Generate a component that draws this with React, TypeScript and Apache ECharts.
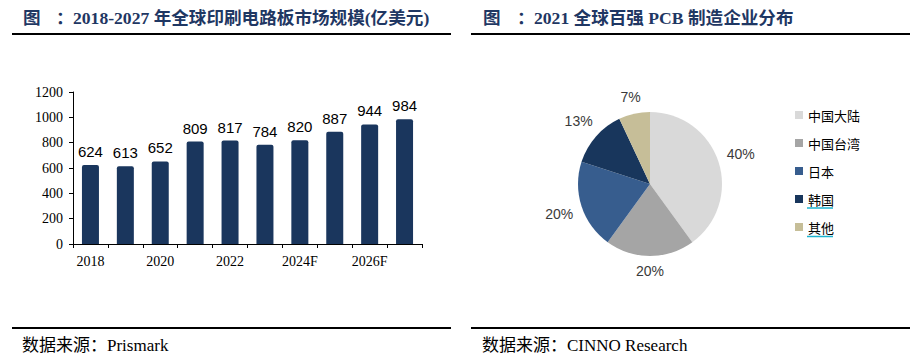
import React, { useEffect, useRef } from "react";
import * as echarts from "echarts";

const years = ["2018", "2019", "2020", "2021", "2022", "2023", "2024F", "2025F", "2026F", "2027F"];
const marketSize = [624, 613, 652, 809, 817, 784, 820, 887, 944, 984];
const yTicks = { min: 0, max: 1200, interval: 200 };

const regions = ["中国大陆", "中国台湾", "日本", "韩国", "其他"];
const shares = [40, 20, 20, 13, 7];
const regionColors = ["#d9d9d9", "#a5a5a5", "#375d8e", "#18365c", "#c6be98"];

const leftTitle = "2018-2027 年全球印刷电路板市场规模(亿美元)";
const rightTitle = "2021 全球百强 PCB 制造企业分布";
const leftSource = "数据来源：Prismark";
const rightSource = "数据来源：CINNO Research";

const NAVY = "#1f3763";
const SERIF = '"Liberation Serif", "Noto Sans CJK SC", serif';
const SANS = '"Liberation Sans", Arial, sans-serif';

const PIE_C = [650, 184];
const PIE_R = 72;

export default function App() {
  const ref = useRef<HTMLDivElement>(null);
  useEffect(() => {
    if (!ref.current) return;
    const chart = echarts.init(ref.current, null, { renderer: "svg" });
    const total = shares.reduce((a, b) => a + b, 0);

    const hline = (x1: number, x2: number, y: number) => ({
      type: "line",
      shape: { x1, y1: y, x2, y2: y },
      style: { stroke: "#000", lineWidth: 2 },
      silent: true,
    });
    const txt = (x: number, y: number, text: string, size: number, color: string, weight: string, family = SERIF) => ({
      type: "text",
      x,
      y,
      style: { text, fontSize: size, fill: color, fontWeight: weight, fontFamily: family, verticalAlign: "middle", align: "left" },
      silent: true,
    });

    chart.setOption({
      animation: false,
      grid: { left: 73, top: 92, width: 349, height: 152, containLabel: false },
      xAxis: {
        type: "category",
        data: years,
        axisLine: { show: true, lineStyle: { color: "#000", width: 1 } },
        axisTick: { show: true, interval: 0, length: 4, lineStyle: { color: "#000" } },
        axisLabel: { interval: 1, color: "#000", fontFamily: SERIF, fontSize: 14, margin: 10 },
      },
      yAxis: {
        type: "value",
        min: yTicks.min,
        max: yTicks.max,
        interval: yTicks.interval,
        splitLine: { show: false },
        axisLine: { show: true, lineStyle: { color: "#000", width: 1 } },
        axisTick: { show: true, length: 4, lineStyle: { color: "#000" } },
        axisLabel: { color: "#000", fontFamily: SERIF, fontSize: 14, margin: 10, formatter: (v: number) => String(v) },
      },
      legend: {
        orient: "vertical",
        left: 790,
        top: 103,
        padding: 5,
        icon: "rect",
        itemWidth: 8,
        itemHeight: 8,
        itemGap: 14,
        data: regions,
        textStyle: { color: "#000", fontSize: 13, lineHeight: 14, fontFamily: '"Noto Sans CJK SC", sans-serif' },
      },
      series: [
        {
          type: "bar",
          data: marketSize,
          barWidth: 17,
          itemStyle: { color: "#1a365d", borderRadius: [2, 2, 0, 0] },
          label: { show: true, position: "top", distance: 6, color: "#000", fontSize: 15, fontFamily: SANS },
        },
        {
          type: "pie",
          center: PIE_C,
          radius: PIE_R,
          startAngle: 90,
          clockwise: true,
          avoidLabelOverlap: false,
          data: regions.map((name, i) => ({ name, value: shares[i], itemStyle: { color: regionColors[i] } })),
          label: {
            show: true,
            position: "outside",
            formatter: "{c}%",
            color: "#3a3a3a",
            fontSize: 14,
            fontFamily: SANS,
          },
          labelLine: { show: false },
          labelLayout: (params: any) => {
            const i = params.dataIndex;
            let before = 0;
            for (let j = 0; j < i; j++) before += shares[j];
            const mid = ((before + shares[i] / 2) / total) * Math.PI * 2;
            const dx = Math.sin(mid);
            const dy = -Math.cos(mid);
            const w = params.labelRect.width;
            const h = params.labelRect.height;
            const d = PIE_R + 8 + (Math.abs(dx) * w) / 2 + (Math.abs(dy) * h) / 2;
            return { x: PIE_C[0] + dx * d, y: PIE_C[1] + dy * d, align: "center", verticalAlign: "middle" };
          },
          emphasis: { disabled: true },
        },
      ],
      graphic: [
        txt(23, 18, "图", 17.6, NAVY, "bold"),
        txt(56, 18, "：", 17.6, NAVY, "bold"),
        txt(73, 18, leftTitle, 17.6, NAVY, "bold"),
        txt(483, 18, "图", 17.6, NAVY, "bold"),
        txt(517, 18, "：", 17.6, NAVY, "bold"),
        txt(534, 18, rightTitle, 17.6, NAVY, "bold"),
        hline(12, 451, 34),
        hline(471, 910, 34),
        hline(12, 451, 328),
        hline(471, 910, 328),
        txt(22, 345, leftSource, 17, "#000", "normal"),
        txt(482, 345, rightSource, 17, "#000", "normal"),
        {
          type: "line",
          shape: { x1: 807, y1: 208, x2: 833, y2: 208 },
          style: { stroke: "#1cb3cf", lineWidth: 1.5 },
          silent: true,
          z: 100,
        },
        {
          type: "line",
          shape: { x1: 807, y1: 236.5, x2: 833, y2: 236.5 },
          style: { stroke: "#1cb3cf", lineWidth: 1.5 },
          silent: true,
          z: 100,
        },
      ],
    });
    return () => chart.dispose();
  }, []);
  return <div ref={ref} style={{ position: "absolute", left: 0, top: 0, width: 916, height: 360, background: "#fff" }} />;
}
